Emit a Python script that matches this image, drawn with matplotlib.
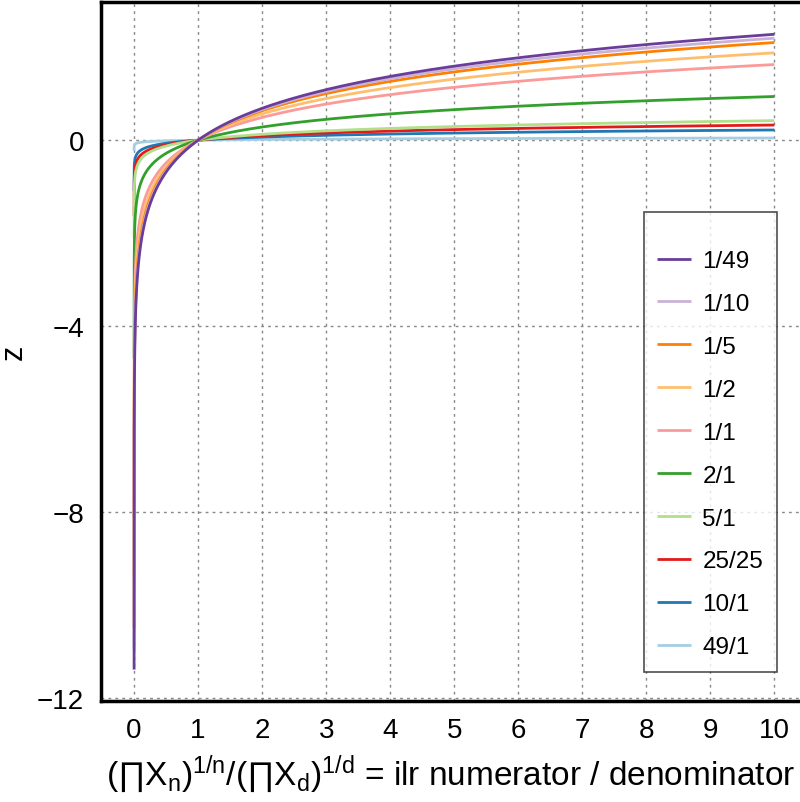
import numpy as np
import matplotlib
matplotlib.use("Agg")
import matplotlib.pyplot as plt

plt.rcParams['font.family'] = ['Liberation Sans', 'DejaVu Sans']
plt.rcParams['mathtext.fontset'] = 'custom'
plt.rcParams['mathtext.rm'] = 'Liberation Sans'
plt.rcParams['mathtext.it'] = 'Liberation Sans'

# parts in numerator / denominator for each balance
num_parts = [1, 1, 1, 1, 1, 2, 5, 25, 10, 49]
den_parts = [49, 10, 5, 2, 1, 1, 1, 25, 1, 1]
labels = ["1/49", "1/10", "1/5", "1/2", "1/1", "2/1", "5/1", "25/25", "10/1", "49/1"]
colors = ["#6a3d9a", "#cab2d6", "#ff7f00", "#fdbf6f", "#fb9a99",
          "#33a02c", "#b2df8a", "#e31a1c", "#1f78b4", "#a6cee3"]
x_min, x_max = 1e-5, 10

x = np.concatenate([np.geomspace(x_min, 0.5, 400), np.linspace(0.5, x_max, 400)[1:]])

fig = plt.figure(figsize=(8, 8.03), dpi=100)
ax = fig.add_axes([0.126, 0.126, 0.874, 0.870])

handles = {}
for n, d, lab, c in reversed(list(zip(num_parts, den_parts, labels, colors))):
    z = np.sqrt(n * d / (n + d)) * np.log(x) / n
    handles[lab], = ax.plot(x, z, color=c, lw=2, label=lab, solid_capstyle='butt')

ax.set_xlim(-0.52, 10.4)
ax.set_ylim(-12.07, 2.97)
ax.set_xticks(range(0, 11))
ax.set_yticks([0, -4, -8, -12])
ax.set_yticklabels(["0", "\u22124", "\u22128", "\u221212"])
ax.tick_params(length=0, labelsize=20, pad=12)
ax.grid(True, color='#888888', linestyle=(0, (2, 3)), lw=1)
ax.set_axisbelow(True)
for s in ['left', 'top', 'bottom']:
    ax.spines[s].set_linewidth(2.5)
ax.spines['right'].set_visible(False)

prod = "\u220f"
xlab = ("$(\\mathrm{" + prod + "X_n})^{1/n}/(\\mathrm{" + prod + "X_d})^{1/d}$"
        " = ilr numerator / denominator")
ax.set_ylabel("z", fontsize=22, labelpad=6)
ax.set_xlabel(xlab, fontsize=24, labelpad=6)

leg = ax.legend([handles[l] for l in labels], labels, loc='upper left',
                bbox_to_anchor=(0.777, 0.70), fontsize=17.5, frameon=True,
                fancybox=False, edgecolor='#222222', handlelength=1.4,
                labelspacing=0.86, borderpad=0.55, handletextpad=0.45,
                borderaxespad=0, title=" ", title_fontsize=3)
leg.get_frame().set_linewidth(1.2)

fig.savefig("out.png", dpi=100)
